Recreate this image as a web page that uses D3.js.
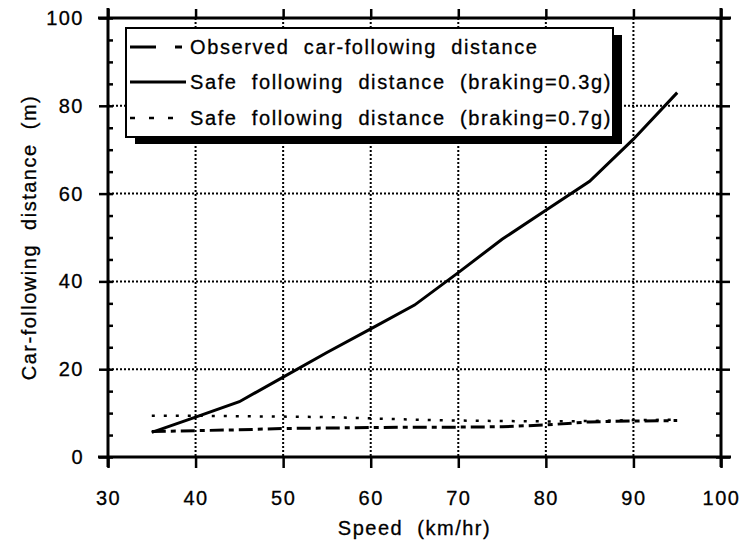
<!DOCTYPE html>
<meta charset="utf-8">
<script src="https://d3js.org/d3.v7.min.js"></script>
<style>
  body { margin: 0; background: #fff; }
  text { font-family: "Liberation Sans", Arial, sans-serif; fill: #000; stroke: #000; stroke-width: 0.3px; }
</style>
<div id="chart"></div>
<script>
// speeds (km/hr) and following distances (m)
const speed = [35, 40, 45, 50, 55, 60, 65, 70, 75, 80, 85, 90, 95];
const observed = [5.8, 6.0, 6.2, 6.5, 6.6, 6.7, 6.8, 6.8, 6.9, 7.3, 8.0, 8.2, 8.3];
const safe03 = [5.6, 9.1, 12.6, 18.2, 23.8, 29.2, 34.6, 42.0, 49.6, 56.2, 62.8, 72.4, 83.0];
const safe07 = [9.4, 9.4, 9.3, 9.2, 9.1, 8.8, 8.5, 8.3, 8.2, 8.1, 8.2, 8.4, 8.5];

const xTicks = [30, 40, 50, 60, 70, 80, 90, 100];
const yTicks = [0, 20, 40, 60, 80, 100];
const yMinor = d3.range(0, 101, 5);

const legendLabels = [
  "Observed  car-following  distance",
  "Safe  following  distance  (braking=0.3g)",
  "Safe  following  distance  (braking=0.7g)"
];

const W = 743, H = 542;
const margin = {top: 18, right: 22, bottom: 85, left: 108};
const width = W - margin.left - margin.right,
      height = H - margin.top - margin.bottom;

const svg = d3.select("#chart").append("svg")
    .attr("width", W).attr("height", H);
const g = svg.append("g")
    .attr("transform", `translate(${margin.left},${margin.top})`);

const x = d3.scaleLinear().domain([30, 100]).range([0, width]);
const y = d3.scaleLinear().domain([0, 100]).range([height, 0]);

// dotted grid
g.append("g").selectAll("line.vg")
  .data(xTicks.slice(1, -1))
  .join("line")
    .attr("x1", d => x(d)).attr("x2", d => x(d))
    .attr("y1", 0).attr("y2", height)
    .attr("stroke", "#000").attr("stroke-width", 2)
    .attr("stroke-dasharray", "2,2");
g.append("g").selectAll("line.hg")
  .data(yTicks.slice(1, -1))
  .join("line")
    .attr("x1", 0).attr("x2", width)
    .attr("y1", d => y(d)).attr("y2", d => y(d))
    .attr("stroke", "#000").attr("stroke-width", 2)
    .attr("stroke-dasharray", "2,2");

// axes: major ticks outward, minor ticks inward on the y sides
function styleAxis(sel) {
  sel.select(".domain").remove();
  sel.selectAll(".tick line").attr("stroke", "#000").attr("stroke-width", 2.5);
  sel.selectAll(".tick text")
    .style("font-size", "20px").style("letter-spacing", "1.5px");
}
g.append("g").attr("transform", `translate(0,${height})`)
  .call(d3.axisBottom(x).tickValues(xTicks).tickSize(11).tickPadding(23))
  .call(styleAxis);
g.append("g")
  .call(d3.axisTop(x).tickValues(xTicks).tickSize(9).tickFormat(""))
  .call(styleAxis);
g.append("g")
  .call(d3.axisLeft(y).tickValues(yTicks).tickSize(9).tickPadding(15))
  .call(styleAxis);
g.append("g").attr("transform", `translate(${width},0)`)
  .call(d3.axisRight(y).tickValues(yTicks).tickSize(9).tickFormat(""))
  .call(styleAxis);
g.append("g")
  .call(d3.axisLeft(y).tickValues(yMinor).tickSize(-5).tickFormat(""))
  .call(styleAxis);
g.append("g").attr("transform", `translate(${width},0)`)
  .call(d3.axisRight(y).tickValues(yMinor).tickSize(-5).tickFormat(""))
  .call(styleAxis);

// frame, lines run a little past the corners
const ext = 10;
const frame = [
  [-ext, height, width + ext, height],
  [-ext, 0, width + ext, 0],
  [0, -ext, 0, height + ext],
  [width, -ext, width, height + ext]
];
g.append("g").selectAll("line")
  .data(frame)
  .join("line")
    .attr("x1", d => d[0]).attr("y1", d => d[1])
    .attr("x2", d => d[2]).attr("y2", d => d[3])
    .attr("stroke", "#000").attr("stroke-width", 3);

// series
const line = vals => d3.line()
  .x((d, i) => x(speed[i]))
  .y(d => y(d))(vals);

const series = [
  {vals: observed, dash: "14,5,5,5", w: 3},
  {vals: safe03, dash: null, w: 3},
  {vals: safe07, dash: "3,9", w: 2.5}
];
g.append("g").selectAll("path")
  .data(series)
  .join("path")
    .attr("d", d => line(d.vals))
    .attr("fill", "none")
    .attr("stroke", "#000")
    .attr("stroke-width", d => d.w)
    .attr("stroke-dasharray", d => d.dash);

// legend box with heavy drop shadow
const lg = svg.append("g").attr("transform", "translate(126,28)");
const lw = 487, lh = 109;
lg.append("rect").attr("x", 9).attr("y", 7).attr("width", lw).attr("height", lh)
  .attr("fill", "#000");
lg.append("rect").attr("x", 0).attr("y", 0).attr("width", lw).attr("height", lh)
  .attr("fill", "#fff").attr("stroke", "#000").attr("stroke-width", 2);

const rowY = [19, 54, 90];
const legendDash = ["26,19,7,100", null, "5,14"];
lg.selectAll("line.key")
  .data(legendLabels)
  .join("line")
    .attr("x1", 4).attr("x2", (d, i) => i === 2 ? 50 : 60)
    .attr("y1", (d, i) => rowY[i]).attr("y2", (d, i) => rowY[i])
    .attr("stroke", "#000").attr("stroke-width", (d, i) => i === 2 ? 2.5 : 3)
    .attr("stroke-dasharray", (d, i) => legendDash[i]);
lg.selectAll("text.key")
  .data(legendLabels)
  .join("text")
    .attr("x", 64)
    .attr("y", (d, i) => rowY[i] + 7)
    .attr("xml:space", "preserve")
    .style("white-space", "pre")
    .style("font-size", "20px")
    .style("letter-spacing", "1.6px")
    .text(d => d);

// axis titles
svg.append("text")
  .attr("x", margin.left + width / 2).attr("y", 535)
  .attr("text-anchor", "middle")
  .style("font-size", "20px").style("letter-spacing", "1.5px")
  .style("white-space", "pre")
  .text("Speed  (km/hr)");
svg.append("text")
  .attr("transform", `translate(36,${margin.top + height / 2}) rotate(-90)`)
  .attr("text-anchor", "middle")
  .style("font-size", "20px").style("letter-spacing", "1.5px")
  .style("white-space", "pre")
  .text("Car-following  distance  (m)");
</script>
